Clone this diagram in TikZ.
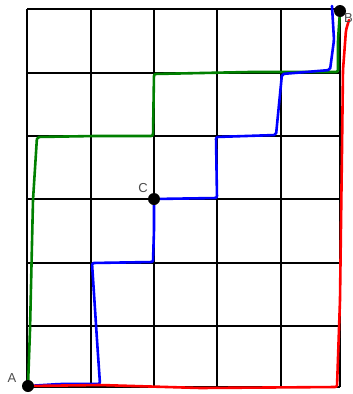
\documentclass[tikz,border=0pt]{standalone}
\usepackage{fontspec}
\setmainfont{Liberation Sans}
\begin{document}
\begin{tikzpicture}[x=1pt,y=-1pt,
  gridline/.style={black,line width=2.2pt},
  pathline/.style={line width=2.6pt,line join=round,line cap=round,rounded corners=2pt},
  dot/.style={circle,fill=black,inner sep=0pt,minimum size=12pt},
  lbl/.style={font=\fontsize{13}{13}\selectfont,text=black!70,inner sep=0pt}]
\useasboundingbox (0,0) rectangle (353,394);
% grid
\foreach \x in {27,91,154,217,281,340} \draw[gridline] (\x,9) -- (\x,387);
\foreach \y in {9,73,136,199,263,326,387} \draw[gridline] (27,\y) -- (340,\y);
% points
\coordinate (A) at (28,386);
\coordinate (B) at (340,11);
\coordinate (C) at (154,199);
% green path
\draw[pathline,green!50!black] (A) -- (30,330) -- (33,200) -- (37,137) -- (95,136) -- (153,136)
  -- (154,74) -- (250,72) -- (338,72) -- (338,40) -- (B);
% blue path
\draw[pathline,blue] (A) -- (60,384) -- (100,384) -- (97,340) -- (92,263) -- (153,262)
  -- (154,230) -- (C) -- (217,198) -- (216,137) -- (276,135) -- (282,74) -- (330,70)
  -- (334,40) -- (332,6);
% red path
\draw[pathline,red] (A) -- (100,385) -- (200,388) -- (337,387) -- (340,300) -- (342,150)
  -- (343,70) -- (346,30) -- (349,20);
% dots and labels
\node[dot] (Adot) at (A) {};
\node[dot] (Cdot) at (C) {};
\node[dot] (Bdot) at (B) {};
\node[lbl] (Alabel) at (12,378) {A};
\node[lbl] (Clabel) at (143,188) {C};
\node[lbl,anchor=west] (Blabel) at (344,18) {B};
\end{tikzpicture}
\end{document}
